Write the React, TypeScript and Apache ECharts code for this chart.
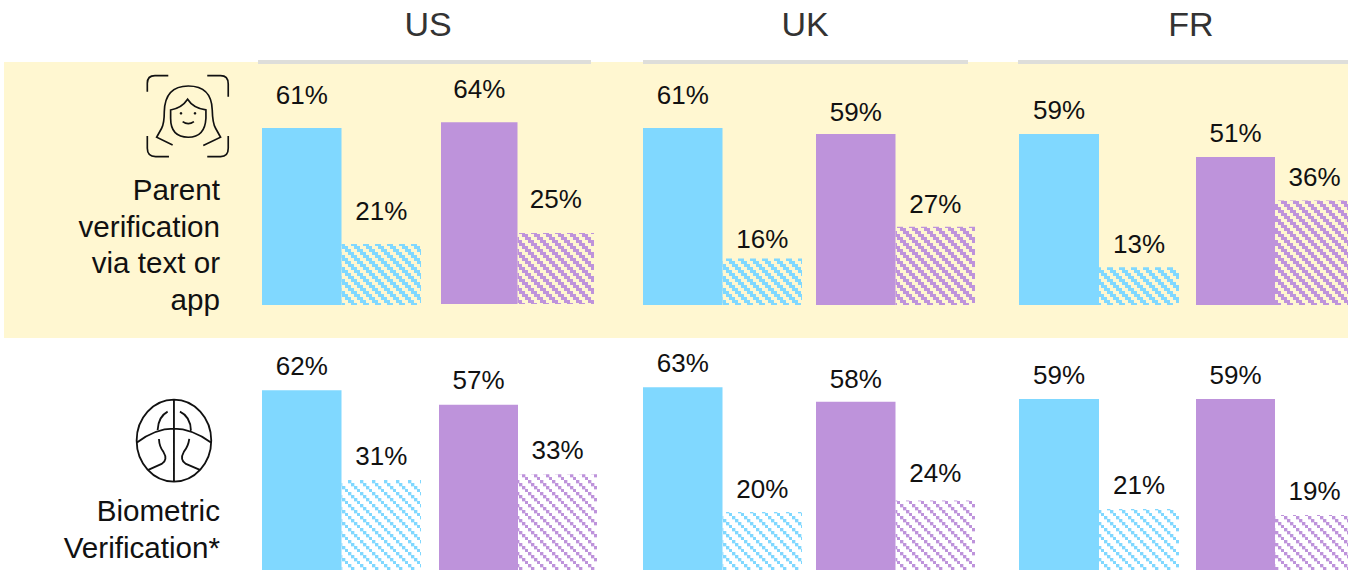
import React, { useEffect, useRef } from "react";
import * as echarts from "echarts";

const countries = ["US", "UK", "FR"];
const measures = ["A", "B"];
// values per row: [country][pair][solid, hatched]
const parentValues = [
  [[61, 21], [64, 25]],
  [[61, 16], [59, 27]],
  [[59, 13], [51, 36]],
];
const biometricValues = [
  [[62, 31], [57, 33]],
  [[63, 20], [58, 24]],
  [[59, 21], [59, 19]],
];
const parentLabel = ["Parent", "verification", "via text or", "app"];
const biometricLabel = ["Biometric", "Verification*"];

const BLUE = "#80D8FF";
const PURPLE = "#BE93DB";
const YELLOW = "#FFF7D1";
const INK = "#111111";

// layout: left edge, total width, baseline and 100% height of each pair of bars
const row1Pairs = [
  [[262, 159, 305, 290], [441, 153, 304, 284]],
  [[643, 159, 305, 290], [816, 159, 305, 290]],
  [[1019, 160, 305, 290], [1196, 158, 305, 290]],
];
const row2Pairs = [
  [[262, 159, 570, 290], [439, 158, 570, 290]],
  [[643, 159, 570, 290], [816, 159, 570, 290]],
  [[1019, 160, 570, 290], [1196, 158, 570, 290]],
];
// layout: gap between each bar top and its label
const row1LabelGaps = [
  [[20, 20], [20, 21]],
  [[20, 7], [9, 10]],
  [[11, 10], [11, 11]],
];
const row2LabelGaps = [
  [[11, 11], [12, 11]],
  [[11, 10], [10, 14]],
  [[11, 11], [11, 11]],
];
const headerRules = [[258, 333], [643, 325], [1018, 330]];
const headerCenters = [428, 805, 1191];

const FACE =
  "M52,95 L52,70 Q52,47 75,47 L115,47 M232,47 L272,47 Q295,47 295,72 L295,110 " +
  "M52,228 L52,265 Q52,290 77,290 L117,290 M232,290 L272,290 Q295,290 295,265 L295,228 " +
  "M128,255 L80,232 L95,205 Q103,190 103,155 Q105,78 175,78 Q245,78 247,150 Q248,190 257,205 L272,232 L220,257 " +
  "M122,150 Q155,145 173,118 Q190,145 228,150 L228,175 Q225,232 175,232 Q122,232 122,175 Z " +
  "M158,185 Q175,197 192,185";
const BRAIN =
  "M50,152 A112,123 0 1 1 274,152 A112,123 0 1 1 50,152 Z M162,28 L162,275 " +
  "M52,157 Q160,75 272,157 M143,65 Q115,80 113,120 M180,65 Q212,80 213,122 " +
  "M117,147 Q118,170 130,185 Q145,210 125,222 L85,240 M208,147 Q205,170 192,185 Q178,210 198,222 L240,240";

function hatch(color: string, thick: number) {
  const c = document.createElement("canvas");
  c.width = 12;
  c.height = 12;
  const ctx = c.getContext("2d")!;
  ctx.fillStyle = color;
  for (let i = 0; i < 4; i++) {
    for (let j = 0; j < 4; j++) {
      if (((i - j + 4) % 4) < thick) {
        if (thick === 1) {
          ctx.globalAlpha = 0.35;
          ctx.fillRect(i * 3 + 3, j * 3, 1, 3);
          ctx.fillRect(i * 3, j * 3 + 3, 3, 1);
          ctx.globalAlpha = 1;
        }
        ctx.fillRect(i * 3, j * 3, 3, 3);
      }
    }
  }
  return { image: c, repeat: "repeat" };
}

export default function App() {
  const ref = useRef<HTMLDivElement>(null);
  useEffect(() => {
    document.body.style.margin = "0";
    echarts.graphic.registerShape("faceIcon", echarts.graphic.extendPath(FACE, {}));
    echarts.graphic.registerShape("brainIcon", echarts.graphic.extendPath(BRAIN, {}));
    const chart = echarts.init(ref.current!, undefined, { renderer: "svg" });

    const grids: any[] = [];
    const xAxes: any[] = [];
    const yAxes: any[] = [];
    const series: any[] = [];
    const addRow = (values: number[][][], pairs: number[][][], gaps: number[][][], thick: number) => {
      values.forEach((country, ci) =>
        country.forEach((pair, pi) => {
          const idx = grids.length;
          const color = pi === 0 ? BLUE : PURPLE;
          const [left, width, baseline, height] = pairs[ci][pi];
          grids.push({ left, width, top: baseline - height, height, outerBoundsMode: "none" });
          xAxes.push({ type: "category", gridIndex: idx, data: ["solid", "hatched"], show: false });
          yAxes.push({ type: "value", gridIndex: idx, min: 0, max: 100, show: false });
          const label = (distance: number) => ({
            show: true,
            position: "top",
            distance,
            formatter: "{c}%",
            fontFamily: "Liberation Sans",
            fontSize: 26,
            color: INK,
          });
          series.push({
            type: "bar",
            name: countries[ci] + " " + measures[pi],
            xAxisIndex: idx,
            yAxisIndex: idx,
            barWidth: "100%",
            barGap: 0,
            data: [
              { value: pair[0], itemStyle: { color }, label: label(gaps[ci][pi][0]) },
              { value: pair[1], itemStyle: { color: hatch(color, thick) }, label: label(gaps[ci][pi][1]) },
            ],
          });
        })
      );
    };
    addRow(parentValues, row1Pairs, row1LabelGaps, 2);
    addRow(biometricValues, row2Pairs, row2LabelGaps, 1);

    const textStyle = (text: string, size: number, align: string, fill: string) => ({
      text,
      font: `${size}px "Liberation Sans"`,
      fontSize: size,
      fontFamily: "Liberation Sans",
      textAlign: align,
      textVerticalAlign: "middle",
      fill,
    });

    const graphic: any[] = [
      { type: "rect", z: -1, silent: true, shape: { x: 4, y: 62, width: 1344, height: 276 }, style: { fill: YELLOW } },
      ...headerRules.map(([x, w]) => ({
        type: "rect",
        z: 0,
        silent: true,
        shape: { x, y: 60, width: w, height: 4 },
        style: { fill: "#DEDEDA" },
      })),
      ...countries.map((c, i) => ({
        type: "text",
        x: headerCenters[i],
        y: 24,
        style: textStyle(c, 34, "center", "#333333"),
      })),
      ...parentLabel.map((t, i) => ({
        type: "text",
        x: 220,
        y: 189.4 + i * 36.6,
        style: textStyle(t, 29.6, "right", INK),
      })),
      ...biometricLabel.map((t, i) => ({
        type: "text",
        x: 220,
        y: 510.4 + i * 36.6,
        style: textStyle(t, 29.6, "right", INK),
      })),
      { type: "faceIcon", x: 130, y: 60, scaleX: 1 / 3, scaleY: 1 / 3, style: { fill: "none", stroke: INK, lineWidth: 5 } },
      { type: "circle", shape: { cx: 181, cy: 113.3, r: 1.3 }, style: { fill: INK } },
      { type: "circle", shape: { cx: 195, cy: 113.3, r: 1.3 }, style: { fill: INK } },
      { type: "brainIcon", x: 120, y: 390, scaleX: 1 / 3, scaleY: 1 / 3, style: { fill: "none", stroke: INK, lineWidth: 5.5 } },
    ];

    chart.setOption({
      animation: false,
      grid: grids,
      xAxis: xAxes,
      yAxis: yAxes,
      series,
      graphic,
    });
    return () => chart.dispose();
  }, []);
  return <div ref={ref} style={{ width: 1348, height: 570, overflow: "hidden" }} />;
}
